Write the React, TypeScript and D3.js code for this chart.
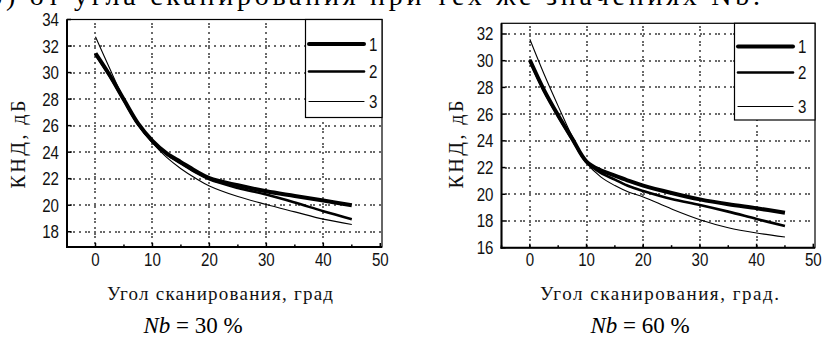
import React from "react";
import * as d3 from "d3";

// Scan angle grid (degrees) at which directivity was sampled
const ANGLES = [0, 2.5, 5, 7.5, 10, 12.5, 15, 17.5, 20, 25, 30, 35, 40, 45];

// Nb = 30 % — directivity, dB
const NB30_S1 = [31.45, 29.8, 27.95, 26.15, 24.85, 23.9, 23.25, 22.6, 22.05, 21.5, 21.05, 20.7, 20.35, 20.0];
const NB30_S2 = [31.4, 29.75, 27.9, 26.1, 24.8, 23.85, 23.15, 22.5, 21.95, 21.3, 20.8, 20.2, 19.55, 18.95];
const NB30_S3 = [32.7, 30.3, 28.0, 26.05, 24.7, 23.6, 22.75, 22.05, 21.45, 20.65, 20.05, 19.5, 18.95, 18.55];

// Nb = 60 % — directivity, dB
const NB60_S1 = [30.05, 27.8, 25.9, 24.15, 22.45, 21.8, 21.4, 21.0, 20.65, 20.1, 19.62, 19.25, 18.95, 18.62];
const NB60_S2 = [30.0, 27.75, 25.85, 24.1, 22.4, 21.6, 21.1, 20.6, 20.25, 19.65, 19.2, 18.7, 18.15, 17.62];
const NB60_S3 = [31.6, 29.0, 26.6, 24.3, 22.35, 21.3, 20.65, 20.15, 19.8, 18.9, 18.1, 17.5, 17.1, 16.8];

const SERIES_NAMES = ["1", "2", "3"];
const X_TICKS = [0, 10, 20, 30, 40, 50];
const Y_TICKS_30 = [18, 20, 22, 24, 26, 28, 30, 32, 34];
const Y_TICKS_60 = [16, 18, 20, 22, 24, 26, 28, 30, 32];

const Y_LABEL = "КНД, дБ";
const X_LABEL_30 = "Угол сканирования, град";
const X_LABEL_60 = "Угол сканирования, град.";
const CAPTION_30 = "30 %";
const CAPTION_60 = "60 %";
const HEADER = "б) от угла сканирования при тех же значениях Nb.";

const WIDTHS = [4, 2.6, 1.1];
const TICK_FONT = "'Liberation Sans', Arial, sans-serif";
const SERIF = "'Liberation Serif', 'Times New Roman', serif";

type PanelProps = {
  series: number[][];
  yTicks: number[];
  yDomain: [number, number];
  box: { x0: number; x1: number; y0: number; y1: number };
  legend: { x0: number; y1: number; lx0: number; lx1: number; rows: number[]; tx: number };
  yLabel: { x: number; y: number; len: number };
  xLabel: { text: string; x: number; len: number };
  caption: { text: string; cx: number };
};

// Narrow tick-style label: regular sans squeezed horizontally
function NarrowText(props: { x: number; y: number; anchor: string; children: React.ReactNode }) {
  return (
    <text transform={`translate(${props.x},${props.y}) scale(0.84,1)`} textAnchor={props.anchor}
      fontFamily={TICK_FONT} fontSize={18} fill="#111">
      {props.children}
    </text>
  );
}

// Dotted grid line drawn as a run of small square dots ("··  ·  ··  ·" rhythm)
function DotLine(props: { horizontal: boolean; at: number; from: number; to: number }) {
  const offsets = [0, 3, 9, 15, 18, 24];
  const period = 30;
  const dots: number[] = [];
  for (let s = props.from + 3; s < props.to - 2; s += period) {
    offsets.forEach((o) => {
      if (s + o < props.to - 2) dots.push(s + o);
    });
  }
  const c = Math.round(props.at) - 1;
  return (
    <g>
      {dots.map((d, i) =>
        props.horizontal ? (
          <rect key={i} x={Math.round(d)} y={c} width={2} height={2} fill="#6a6a6a" />
        ) : (
          <rect key={i} x={c} y={Math.round(d)} width={2} height={2} fill="#6a6a6a" />
        )
      )}
    </g>
  );
}

function Panel(p: PanelProps) {
  const { box } = p;
  const x = d3.scaleLinear().domain([-5, 50.3]).range([box.x0, box.x1]);
  const y = d3.scaleLinear().domain(p.yDomain).range([box.y1, box.y0]);
  const line = d3
    .line<[number, number]>()
    .x((d) => x(d[0]))
    .y((d) => y(d[1]))
    .curve(d3.curveCatmullRom.alpha(0.5));

  const gridX = X_TICKS.filter((t) => x(t) < box.x1 - 3);
  const gridY = p.yTicks.filter((t) => y(t) > box.y0 + 3 && y(t) < box.y1 - 3);
  const minorX = d3.range(-5, 50, 5).filter((t) => t % 10 !== 0);

  return (
    <g>
      {/* grid */}
      {gridX.map((t) => (
        <DotLine key={"gx" + t} horizontal={false} at={x(t)} from={box.y0} to={box.y1} />
      ))}
      {gridY.map((t) => (
        <DotLine key={"gy" + t} horizontal={true} at={y(t)} from={box.x0} to={box.x1} />
      ))}

      {/* curves */}
      {p.series.map((vals, i) => (
        <path key={"s" + i}
          d={line(ANGLES.map((a, k) => [a, vals[k]] as [number, number])) || ""}
          fill="none" stroke="#000" strokeWidth={WIDTHS[i]} strokeLinejoin="round" />
      ))}

      {/* axes frame */}
      <rect x={box.x0} y={box.y0} width={box.x1 - box.x0} height={box.y1 - box.y0}
        fill="none" stroke="#000" strokeWidth={1.2} />
      <line x1={box.x0} x2={box.x0} y1={box.y0} y2={box.y1 + 1} stroke="#000" strokeWidth={2} />
      <line x1={box.x0 - 1} x2={box.x1} y1={box.y1} y2={box.y1} stroke="#000" strokeWidth={2} />

      {/* ticks */}
      {X_TICKS.map((t) => (
        <line key={"tx" + t} x1={x(t)} x2={x(t)} y1={box.y1} y2={box.y1 - 4} stroke="#000" strokeWidth={1.5} />
      ))}
      {minorX.map((t) => (
        <line key={"mx" + t} x1={x(t)} x2={x(t)} y1={box.y1} y2={box.y1 - 2.5} stroke="#000" strokeWidth={1.5} />
      ))}
      {p.yTicks.map((t) => (
        <line key={"ty" + t} x1={box.x0} x2={box.x0 + 4} y1={y(t)} y2={y(t)} stroke="#000" strokeWidth={1.5} />
      ))}

      {/* tick labels */}
      {X_TICKS.map((t) => (
        <NarrowText key={"lx" + t} x={x(t)} y={box.y1 + 18.5} anchor="middle">{t}</NarrowText>
      ))}
      {p.yTicks.map((t) => (
        <NarrowText key={"ly" + t} x={box.x0 - 8} y={y(t) + 6.5} anchor="end">{t}</NarrowText>
      ))}

      {/* legend */}
      <rect x={p.legend.x0} y={box.y0} width={box.x1 - p.legend.x0} height={p.legend.y1 - box.y0}
        fill="#fff" stroke="#000" strokeWidth={1.2} />
      {SERIES_NAMES.map((name, i) => (
        <g key={"lg" + i}>
          <line x1={p.legend.lx0} x2={p.legend.lx1} y1={p.legend.rows[i]} y2={p.legend.rows[i]}
            stroke="#000" strokeWidth={WIDTHS[i]} strokeLinecap="round" />
          <NarrowText x={p.legend.tx} y={p.legend.rows[i] + 6.5} anchor="start">{name}</NarrowText>
        </g>
      ))}

      {/* axis titles */}
      <text transform={`translate(${p.yLabel.x},${p.yLabel.y}) rotate(-90)`} textAnchor="middle"
        fontFamily={SERIF} fontSize={20} fill="#111" textLength={p.yLabel.len} lengthAdjust="spacing">
        {Y_LABEL}
      </text>
      <text x={p.xLabel.x} y={300} fontFamily={SERIF} fontSize={19} fill="#111"
        textLength={p.xLabel.len} lengthAdjust="spacing">
        {p.xLabel.text}
      </text>
      <text x={p.caption.cx} y={333} textAnchor="middle" fontFamily={SERIF} fontSize={23} fill="#000">
        <tspan fontStyle="italic">Nb</tspan>
        <tspan> = {p.caption.text}</tspan>
      </text>
    </g>
  );
}

export default function App() {
  return (
    <svg width={824} height={338} viewBox="0 0 824 338"
      style={{ position: "absolute", left: 0, top: 0, background: "#fff" }}>
      <rect width={824} height={338} fill="#fff" />
      <text x={-12} y={5} fontFamily={SERIF} fontSize={28} fill="#000" textLength={772} lengthAdjust="spacing">
        {HEADER}
      </text>
      <Panel
        series={[NB30_S1, NB30_S2, NB30_S3]}
        yTicks={Y_TICKS_30}
        yDomain={[16.85, 34]}
        box={{ x0: 67, x1: 382, y0: 19.5, y1: 247 }}
        legend={{ x0: 305.5, y1: 117.5, lx0: 309, lx1: 364, rows: [44, 71.5, 101.5], tx: 369 }}
        yLabel={{ x: 25, y: 144.5, len: 88 }}
        xLabel={{ text: X_LABEL_30, x: 107, len: 226 }}
        caption={{ text: CAPTION_30, cx: 193 }}
      />
      <Panel
        series={[NB60_S1, NB60_S2, NB60_S3]}
        yTicks={Y_TICKS_60}
        yDomain={[16, 32.8]}
        box={{ x0: 501.5, x1: 815, y0: 23.3, y1: 247.7 }}
        legend={{ x0: 734.5, y1: 120, lx0: 738, lx1: 793, rows: [46.5, 72.5, 106.5], tx: 798 }}
        yLabel={{ x: 463, y: 144.5, len: 88 }}
        xLabel={{ text: X_LABEL_60, x: 540, len: 239 }}
        caption={{ text: CAPTION_60, cx: 640 }}
      />
    </svg>
  );
}
